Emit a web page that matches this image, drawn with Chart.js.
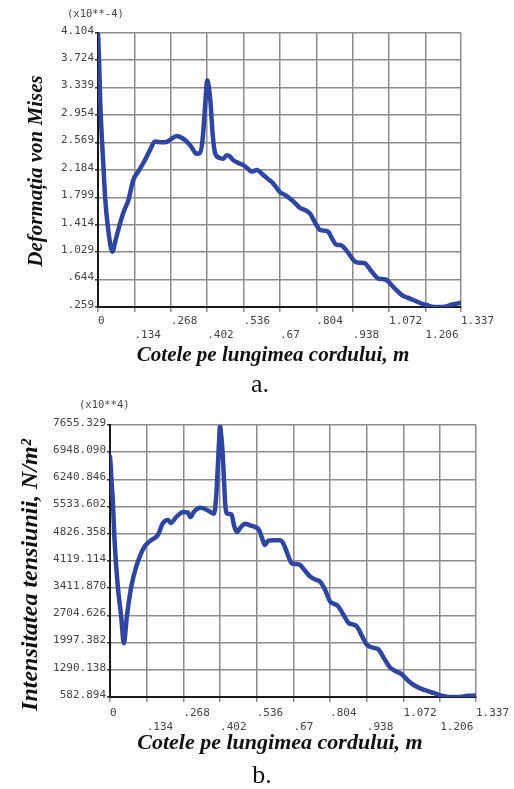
<!DOCTYPE html>
<html>
<head>
<meta charset="utf-8">
<script src="https://cdn.jsdelivr.net/npm/chart.js@4.4.0/dist/chart.umd.min.js"></script>
<style>
  body { margin: 0; background: #fff; }
  canvas { position: absolute; left: 0; }
  #chartA { top: 0; }
  #chartB { top: 396px; }
</style>
</head>
<body>
<canvas id="chartA" width="514" height="396"></canvas>
<canvas id="chartB" width="514" height="393"></canvas>
<script>
// tick labels
const xTicks = ['0', '.134', '.268', '.402', '.536', '.67', '.804', '.938', '1.072', '1.206', '1.337'];
const yTicksA = ['4.104', '3.724', '3.339', '2.954', '2.569', '2.184', '1.799', '1.414', '1.029', '.644', '.259'];
const yTicksB = ['7655.329', '6948.090', '6240.846', '5533.602', '4826.358', '4119.114', '3411.870', '2704.626', '1997.382', '1290.138', '582.894'];

// a. - deformatia von Mises (x10**-4)
const xA = [0, 0.004, 0.008, 0.02, 0.027, 0.035, 0.053, 0.065, 0.081, 0.095, 0.112, 0.13, 0.15, 0.167, 0.19, 0.21,
  0.235, 0.255, 0.275, 0.29, 0.31, 0.327, 0.345, 0.363, 0.375, 0.385, 0.395, 0.402, 0.408, 0.414, 0.422, 0.431,
  0.449, 0.462, 0.474, 0.486, 0.498, 0.517, 0.535, 0.552, 0.566, 0.585, 0.609, 0.628, 0.646, 0.67, 0.69, 0.707,
  0.725, 0.744, 0.762, 0.781, 0.8, 0.818, 0.835, 0.848, 0.862, 0.879, 0.89, 0.903, 0.925, 0.947, 0.965, 0.983,
  1.005, 1.032, 1.048, 1.063, 1.09, 1.118, 1.14, 1.161, 1.19, 1.211, 1.23, 1.247, 1.265, 1.284, 1.3, 1.315, 1.337];
const yA = [4.104, 3.72, 3.16, 2.23, 1.76, 1.43, 1.035, 1.2, 1.43, 1.6, 1.76, 2.04, 2.17, 2.28, 2.45, 2.58,
  2.57, 2.58, 2.63, 2.66, 2.63, 2.58, 2.5, 2.41, 2.42, 2.6, 3.1, 3.44, 3.35, 3.15, 2.7, 2.42,
  2.35, 2.34, 2.39, 2.37, 2.32, 2.28, 2.25, 2.2, 2.16, 2.18, 2.11, 2.05, 1.99, 1.87, 1.83, 1.78,
  1.72, 1.65, 1.62, 1.57, 1.44, 1.34, 1.33, 1.316, 1.22, 1.13, 1.13, 1.105, 1.0, 0.895, 0.88, 0.872,
  0.77, 0.66, 0.65, 0.638, 0.53, 0.43, 0.39, 0.357, 0.31, 0.287, 0.262, 0.259, 0.26, 0.265, 0.29, 0.30, 0.32];

// b. - intensitatea tensiunii (x10**4)
const xB = [0, 0.003, 0.006, 0.0103, 0.0165, 0.0286, 0.041, 0.0506, 0.0615, 0.0777, 0.096, 0.126, 0.151, 0.175,
  0.193, 0.212, 0.222, 0.244, 0.268, 0.284, 0.294, 0.306, 0.329, 0.353, 0.38, 0.388, 0.394, 0.399, 0.402, 0.406,
  0.411, 0.416, 0.421, 0.426, 0.444, 0.453, 0.463, 0.478, 0.493, 0.511, 0.53, 0.545, 0.556, 0.566, 0.578, 0.6,
  0.621, 0.633, 0.646, 0.664, 0.68, 0.694, 0.712, 0.731, 0.75, 0.767, 0.785, 0.804, 0.82, 0.834, 0.852, 0.871,
  0.886, 0.901, 0.92, 0.937, 0.958, 0.98, 1.0, 1.023, 1.045, 1.065, 1.09, 1.114, 1.135, 1.157, 1.176, 1.194,
  1.212, 1.23, 1.255, 1.279, 1.295, 1.309, 1.325, 1.337];
const yB = [6831, 6550, 6150, 5705, 4665, 3451, 2671, 1979, 2671, 3451, 3971, 4490, 4665, 4795,
  5099, 5185, 5110, 5280, 5392, 5380, 5262, 5392, 5505, 5453, 5350, 5800, 6600, 7300, 7630, 7400,
  6984, 6300, 5600, 5360, 5332, 5050, 4875, 5000, 5090, 5048, 5004, 4918, 4700, 4532, 4650, 4661,
  4661, 4580, 4350, 4060, 4040, 4016, 3870, 3714, 3640, 3585, 3380, 3068, 3000, 2939, 2730, 2511,
  2470, 2423, 2180, 1951, 1870, 1822, 1600, 1349, 1250, 1177, 1000, 875, 800, 746, 700, 660,
  615, 590, 583, 585, 600, 617, 617, 625];

const blue = '#2e46a0';
const gridGray = '#8c8c8c';
const tickFont = { family: '"DejaVu Sans Mono", monospace', size: 11, lineHeight: 1.27 };
const titleFont = 'bold italic 21px "Liberation Serif"';

// extra text: multiplier, axis titles, figure letter
function captions(items) {
  return {
    id: 'captions',
    afterDraw(chart) {
      const ctx = chart.ctx;
      items.forEach(t => {
        ctx.save();
        ctx.translate(t.x, t.y);
        if (t.rot) ctx.rotate(t.rot * Math.PI / 180);
        ctx.font = t.font;
        ctx.fillStyle = t.color || '#111';
        ctx.textAlign = t.align || 'center';
        ctx.textBaseline = t.base || 'middle';
        ctx.fillText(t.text, 0, 0);
        ctx.restore();
      });
    }
  };
}

function makeChart(id, xs, ys, yTicks, box, items) {
  const points = xs.map((x, i) => ({ x: x, y: ys[i] }));
  const xVals = xTicks.map(Number);
  const yVals = yTicks.map(Number);
  return new Chart(document.getElementById(id), {
    type: 'line',
    data: {
      datasets: [{
        data: points,
        borderColor: blue,
        borderWidth: 4.5,
        pointRadius: 0,
        cubicInterpolationMode: 'monotone',
        borderJoinStyle: 'round',
        borderCapStyle: 'round'
      }]
    },
    options: {
      responsive: false,
      animation: false,
      layout: { padding: { left: 0, top: box.top, right: box.right, bottom: box.bottom } },
      plugins: { legend: { display: false }, tooltip: { enabled: false } },
      scales: {
        x: {
          type: 'linear',
          min: 0,
          max: 1.337,
          afterBuildTicks: s => { s.ticks = xVals.map(v => ({ value: v })); },
          afterFit: s => { s.height = 40; },
          grid: { color: gridGray, lineWidth: 1.5, tickLength: 5, tickColor: gridGray },
          border: { color: '#1a1a1a', width: 2 },
          ticks: {
            autoSkip: false, maxRotation: 0, minRotation: 0, align: 'start',
            padding: box.xPad, color: '#444', font: tickFont,
            callback: (v, i) => i % 2 ? ['', xTicks[i]] : xTicks[i]
          }
        },
        y: {
          type: 'linear',
          min: yVals[yVals.length - 1],
          max: yVals[0],
          afterBuildTicks: s => { s.ticks = yVals.slice().reverse().map(v => ({ value: v })); },
          afterFit: s => { s.width = box.left; },
          grid: { color: gridGray, lineWidth: 1.5, tickLength: 3, tickColor: '#333' },
          border: { color: '#1a1a1a', width: 2 },
          ticks: {
            padding: 1, color: '#444', font: tickFont, labelOffset: -2,
            callback: (v, i) => yTicks[yTicks.length - 1 - i]
          }
        }
      }
    },
    plugins: [captions(items)]
  });
}

makeChart('chartA', xA, yA, yTicksA, { left: 98, top: 33, right: 53, bottom: 49, xPad: 2 }, [
  { text: '(x10**-4)', x: 67, y: 14, font: '10.5px "DejaVu Sans Mono"', align: 'left', color: '#444' },
  { text: 'Deformația von Mises', x: 37, y: 171, rot: -90, font: titleFont },
  { text: 'Cotele pe lungimea cordului, m', x: 273, y: 356, font: titleFont },
  { text: 'a.', x: 260, y: 392, font: '26px "Liberation Serif"', base: 'alphabetic' }
]);

makeChart('chartB', xB, yB, yTicksB, { left: 110, top: 29, right: 38, bottom: 52, xPad: 4 }, [
  { text: '(x10**4)', x: 79, y: 9, font: '10.5px "DejaVu Sans Mono"', align: 'left', color: '#444' },
  { text: 'Intensitatea tensiunii, N/m²', x: 31, y: 179, rot: -90, font: 'bold italic 24px "Liberation Serif"' },
  { text: 'Cotele pe lungimea cordului, m', x: 280, y: 347, font: 'bold italic 22px "Liberation Serif"' },
  { text: 'b.', x: 262, y: 387, font: '26px "Liberation Serif"', base: 'alphabetic' }
]);
</script>
</body>
</html>
